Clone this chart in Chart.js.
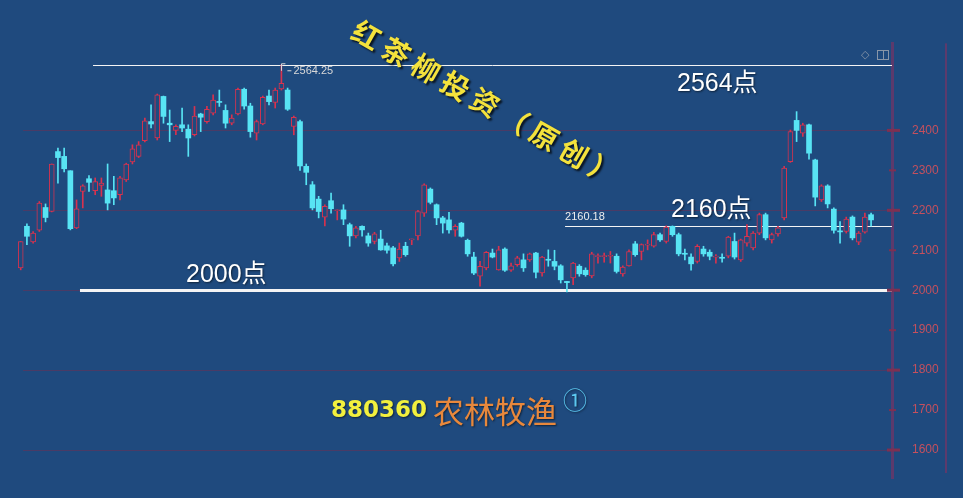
<!DOCTYPE html>
<html>
<head>
<meta charset="utf-8">
<script src="https://cdn.jsdelivr.net/npm/chart.js@4"></script>
<style>
html,body{margin:0;padding:0;background:#1f4a7e;overflow:hidden;}
#wrap{position:relative;width:963px;height:498px;}
</style>
</head>
<body>
<div id="wrap"><canvas id="c"></canvas></div>
<script>
// ---- data ----
const opens = [2056,2160,2121,2150,2207,2197,2347,2335,2299,2156,2247,2279,2249,2262,2251,2249,2239,2276,2321,2335,
2374,2422,2381,2485,2418,2400,2414,2403,2389,2441,2422,2443,2472,2450,2418,2441,2503,2461,2393,2416,
2486,2470,2504,2501,2410,2422,2310,2264,2228,2183,2224,2199,2201,2164,2136,2160,2136,2122,2128,2111,
2106,2081,2110,2126,2136,2193,2253,2214,2181,2176,2150,2168,2125,2083,2035,2056,2093,2051,2103,2050,
2064,2076,2076,2093,2043,2077,2072,2061,2022,2031,2060,2050,2036,2084,2084,2085,2085,2041,2061,2116,
2097,2113,2110,2139,2122,2160,2139,2092,2083,2072,2103,2095,2083,2081,2085,2122,2076,2118,2106,2143,
2189,2126,2141,2181,2322,2425,2393,2414,2326,2226,2261,2203,2148,2147,2183,2120,2145,2189];
const highs = [2122,2166,2147,2222,2216,2316,2356,2356,2299,2226,2264,2287,2281,2281,2316,2285,2285,2318,2364,2372,
2431,2464,2491,2486,2451,2414,2456,2414,2460,2443,2460,2489,2501,2464,2439,2506,2506,2468,2426,2486,
2501,2506,2564.25,2506,2436,2426,2316,2272,2235,2214,2243,2201,2214,2168,2160,2161,2143,2145,2150,2118,
2110,2118,2120,2128,2200,2266,2256,2216,2185,2195,2164,2170,2128,2095,2072,2097,2103,2110,2106,2068,
2085,2091,2093,2095,2085,2101,2100,2064,2022,2070,2064,2056,2095,2091,2093,2097,2091,2061,2101,2122,
2116,2126,2145,2143,2161,2161,2143,2103,2091,2114,2110,2101,2089,2091,2135,2143,2128,2164,2147,2193,
2193,2143,2160,2310,2401,2447,2418,2416,2328,2264,2264,2206,2172,2183,2186,2147,2193,2193];
const lows = [2051,2114,2118,2147,2171,2196,2268,2296,2151,2154,2206,2247,2239,2235,2201,2214,2226,2272,2316,2332,
2371,2406,2376,2418,2372,2389,2397,2335,2386,2397,2418,2439,2460,2406,2414,2439,2453,2383,2376,2414,
2464,2456,2501,2450,2389,2300,2264,2201,2181,2161,2193,2176,2164,2110,2131,2135,2110,2116,2100,2093,
2061,2072,2085,2114,2126,2185,2216,2164,2143,2143,2135,2133,2085,2039,2010,2051,2081,2050,2047,2047,
2060,2047,2072,2031,2035,2060,2051,2018,1996,2014,2035,2035,2031,2068,2070,2068,2043,2035,2060,2085,
2076,2101,2108,2122,2118,2135,2086,2076,2050,2068,2085,2076,2068,2070,2081,2078,2072,2110,2101,2139,
2126,2118,2135,2176,2320,2372,2385,2328,2211,2222,2206,2143,2118,2143,2126,2114,2143,2160];
const closes = [2122,2135,2143,2218,2182,2316,2332,2304,2154,2204,2261,2270,2272,2268,2218,2231,2281,2316,2354,2364,
2424,2416,2489,2435,2414,2410,2406,2381,2436,2433,2453,2476,2470,2418,2431,2503,2461,2397,2422,2483,
2472,2501,2518,2453,2433,2311,2295,2206,2197,2210,2204,2201,2178,2136,2156,2151,2118,2141,2101,2100,
2066,2103,2089,2128,2197,2264,2220,2181,2168,2151,2160,2135,2091,2043,2060,2095,2083,2101,2050,2061,
2081,2056,2091,2045,2083,2075,2060,2026,2019,2068,2041,2039,2091,2086,2086,2087,2047,2058,2097,2089,
2114,2115,2139,2126,2158,2139,2091,2090,2066,2110,2091,2085,2085,2080,2133,2083,2126,2135,2143,2189,
2131,2139,2156,2306,2397,2400,2414,2343,2233,2261,2216,2150,2146,2178,2131,2143,2183,2176];
const yTickValues = [1600,1700,1800,1900,2000,2100,2200,2300,2400];
const refLevels = [2564.25, 2160.18, 2000];
const refLabels = ['2564点', '2160点', '2000点'];
const peakLabel = '2564.25';
const levelLabel = '2160.18';
const stockCode = '880360';
const stockName = '农林牧渔';
const titleText = '红茶柳投资（原创）';

// ---- styles ----
const BG = '#1f4a7e';
const RED = '#d8324e';
const CYAN = '#58e4f4';
const GRID = '#4a3b66';
const AXIS = '#5c3a6c';
const TICKMARK = '#7e3052';

const upBody = [], downBody = [], upWick = [], downWick = [];
opens.forEach((o, i) => {
  const c = closes[i];
  const up = c >= o;
  (up ? upBody : downBody).push({x: i, y: [o, c]});
  (up ? upWick : downWick).push({x: i, y: [lows[i], highs[i]]});
});

const overlay = {
  id: 'overlay',
  beforeDatasetsDraw(chart) {
    const {ctx, chartArea: ca, scales: {x, y}} = chart;
    ctx.save();
    const starts = [11.65, 87.7, 9.55];
    const widths = [1, 1, 3];
    refLevels.forEach((v, k) => {
      const py = Math.round(y.getPixelForValue(v)) + (widths[k] % 2 ? 0.5 : 0);
      ctx.strokeStyle = '#f4f4f4';
      ctx.lineWidth = widths[k];
      ctx.beginPath();
      ctx.moveTo(x.getPixelForValue(starts[k]), py);
      ctx.lineTo(ca.right, py);
      ctx.stroke();
    });
    ctx.restore();
  },
  afterDraw(chart) {
    const {ctx, chartArea: ca, scales: {x, y}} = chart;
    ctx.save();
    // y tick marks
    ctx.fillStyle = TICKMARK;
    yTickValues.forEach(v => {
      const py = y.getPixelForValue(v);
      if (v % 200 === 0) ctx.fillRect(ca.right - 5, py - 1.5, 13, 3);
      else ctx.fillRect(ca.right - 3, py - 1, 7, 2);
    });
    // right border
    ctx.fillStyle = AXIS;
    ctx.fillRect(945, ca.top, 2, ca.bottom - ca.top - 5);
    // icons top right
    ctx.fillStyle = '#8896a8';
    ctx.font = '11px "DejaVu Sans"';
    ctx.textBaseline = 'middle';
    ctx.textAlign = 'left';
    ctx.fillText('◇', 861, 55);
    ctx.strokeStyle = '#8896a8';
    ctx.lineWidth = 1;
    ctx.strokeRect(877.5, 50.5, 11, 9);
    ctx.beginPath(); ctx.moveTo(883.5, 50.5); ctx.lineTo(883.5, 59.5); ctx.stroke();

    // peak label
    const pkIdx = highs.indexOf(Math.max(...highs));
    const pkX = x.getPixelForValue(pkIdx);
    const pkY = y.getPixelForValue(highs[pkIdx]);
    ctx.strokeStyle = '#d8d8d8';
    ctx.beginPath();
    ctx.moveTo(Math.round(pkX) + 0.5, pkY + 6); ctx.lineTo(Math.round(pkX) + 0.5, pkY - 1); ctx.lineTo(pkX + 4, pkY - 1);
    ctx.moveTo(pkX + 6, pkY + 6); ctx.lineTo(pkX + 10, pkY + 6);
    ctx.stroke();
    ctx.fillStyle = '#d8d8d8';
    ctx.font = '11px "Liberation Sans"';
    ctx.fillText(peakLabel, pkX + 12, pkY + 6);
    // 2160.18 label
    ctx.fillStyle = '#eeeeee';
    ctx.fillText(levelLabel, x.getPixelForValue(87.7), y.getPixelForValue(refLevels[1]) - 9);

    // big level labels
    ctx.shadowColor = 'rgba(0,0,0,0.55)';
    ctx.shadowBlur = 2; ctx.shadowOffsetX = 1; ctx.shadowOffsetY = 1;
    ctx.fillStyle = '#ffffff';
    ctx.font = '25px "Liberation Sans", "Noto Sans CJK SC"';
    ctx.fillText(refLabels[0], 677, 84);
    ctx.fillText(refLabels[1], 671, 210);
    ctx.fillText(refLabels[2], 186, 275);

    // stock code & name
    ctx.font = 'bold 23px "DejaVu Sans"';
    ctx.fillStyle = '#f2f03e';
    ctx.fillText(stockCode, 331, 411);
    ctx.font = '31px "Noto Sans CJK SC"';
    ctx.fillStyle = '#e8883c';
    ctx.fillText(stockName, 433, 411);
    ctx.font = '24px "Noto Sans CJK SC"';
    ctx.fillStyle = '#5cc8f0';
    ctx.textAlign = 'center';
    ctx.fillText('①', 575, 400);

    // diagonal title
    const chars = Array.from(titleText);
    const x0 = 366.7, y0 = 35, x1 = 603.3, y1 = 170;
    const ang = Math.atan2(y1 - y0, x1 - x0);
    ctx.font = 'bold 28px "Noto Sans CJK SC"';
    ctx.fillStyle = '#f4e23c';
    ctx.shadowColor = 'rgba(0,0,0,0.75)';
    ctx.shadowBlur = 2; ctx.shadowOffsetX = 2; ctx.shadowOffsetY = 2;
    chars.forEach((ch, k) => {
      const t = k / (chars.length - 1);
      ctx.save();
      ctx.translate(x0 + (x1 - x0) * t, y0 + (y1 - y0) * t);
      ctx.rotate(ang);
      ctx.textAlign = 'center';
      ctx.textBaseline = 'middle';
      ctx.fillText(ch, 0, 0);
      ctx.restore();
    });
    ctx.restore();
  }
};

new Chart(document.getElementById('c'), {
  type: 'bar',
  data: {
    datasets: [
      {data: upBody, backgroundColor: BG, borderColor: RED, borderWidth: 1, borderSkipped: false, barThickness: 5, minBarLength: 1, order: 0, clip: false},
      {data: downBody, backgroundColor: CYAN, borderColor: CYAN, borderWidth: 0, barThickness: 5, minBarLength: 1, order: 0, clip: false},
      {data: upWick, backgroundColor: RED, borderWidth: 0, barThickness: 1, order: 1, clip: false},
      {data: downWick, backgroundColor: CYAN, borderWidth: 0, barThickness: 1, order: 1, clip: false}
    ]
  },
  options: {
    responsive: true,
    maintainAspectRatio: false,
    animation: false,
    grouped: false,
    layout: {padding: {left: 23, right: 0, top: 43.3, bottom: 20}},
    plugins: {legend: {display: false}, tooltip: {enabled: false}},
    scales: {
      x: {type: 'linear', min: 0.37, max: 140.37, display: false, offset: false},
      y: {
        position: 'right',
        min: 1530, max: 2618,
        afterBuildTicks: s => { s.ticks = yTickValues.map(v => ({value: v})); },
        afterFit: s => { s.width = 71; s.paddingTop = 0; s.paddingBottom = 0; },
        ticks: {color: '#c4505e', font: {family: '"Liberation Sans"', size: 12}, padding: 20, callback: v => String(v)},
        grid: {
          color: c => (c.tick && c.tick.value % 200 === 0) ? GRID : 'rgba(0,0,0,0)',
          drawTicks: false, lineWidth: 1
        },
        border: {color: AXIS, width: 3}
      }
    }
  },
  plugins: [overlay]
});
</script>
</body>
</html>
